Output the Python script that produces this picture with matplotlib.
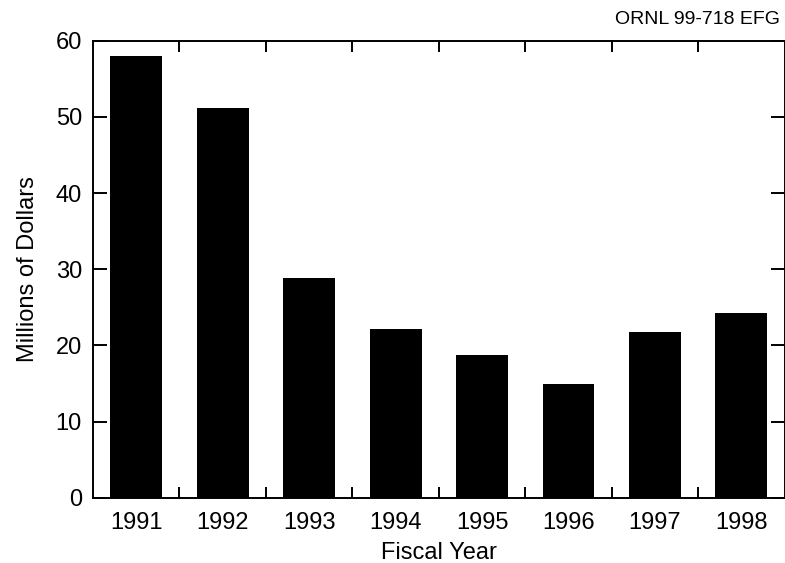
import numpy as np
import matplotlib.pyplot as plt

years = ['1991', '1992', '1993', '1994', '1995', '1996', '1997', '1998']
dollars = [58.0, 51.1, 28.9, 22.2, 18.7, 15.0, 21.8, 24.2]

plt.rcParams['font.family'] = ['Liberation Sans', 'DejaVu Sans']

fig = plt.figure(figsize=(7.85, 5.63), dpi=100)
ax = fig.add_axes([0.1185, 0.1155, 0.881, 0.8125])

x = np.arange(len(years))
ax.bar(x, dollars, width=0.6, color='black')

ax.set_xlim(-0.5, len(years) - 0.5)
ax.set_ylim(0, 60)
ax.set_yticks(np.arange(0, 61, 10))
ax.set_xticks(x[:-1] + 0.5)
ax.set_xticklabels([])
ax.set_xticks(x, minor=True)
ax.set_xticklabels(years, minor=True)
ax.tick_params(axis='x', which='major', direction='in', length=8, width=1.4,
               top=True, bottom=True)
ax.tick_params(axis='x', which='minor', length=0, pad=10, labelsize=17)
ax.tick_params(axis='y', direction='in', length=10, width=1.4,
               left=True, right=True, labelsize=17, pad=8)
for s in ax.spines.values():
    s.set_linewidth(1.4)

ax.set_xlabel('Fiscal Year', fontsize=17, labelpad=6)
ax.set_ylabel('Millions of Dollars', fontsize=17, labelpad=12)
fig.text(0.994, 0.966, 'ORNL 99-718 EFG', ha='right', va='center', fontsize=14)

fig.savefig('out.png', dpi=100)
